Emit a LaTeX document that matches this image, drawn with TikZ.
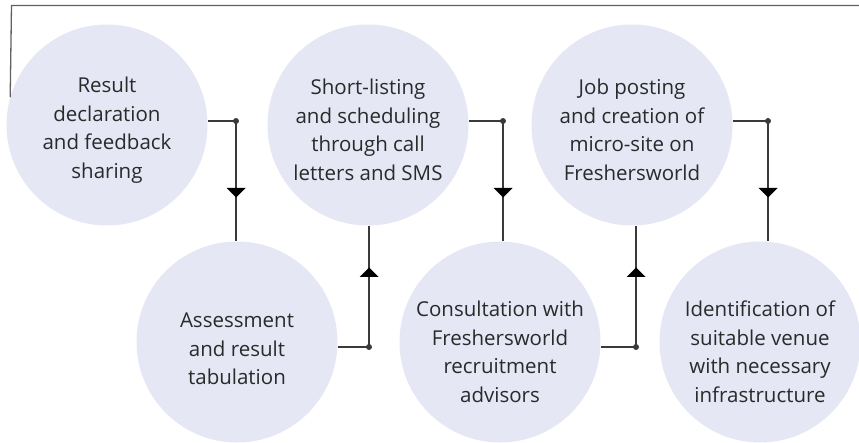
\documentclass[tikz,border=0pt]{standalone}
\usepackage{fontspec}
\setmainfont{Open Sans}
\usetikzlibrary{calc}
\definecolor{circfill}{HTML}{E5E7F5}
\definecolor{linec}{HTML}{3A3A3A}
\definecolor{textc}{HTML}{2A2A2A}
\tikzset{
  stepcircle/.style={circle, fill=circfill, draw=none, minimum size=201pt, inner sep=0pt},
  steptext/.style={align=center, text=textc, inner sep=0pt, font=\fontsize{20.5}{28.5}\selectfont},
  conn/.style={draw=linec, line width=1.1pt},
  topconn/.style={draw=linec!80, line width=1.3pt},
  dotc/.style={fill=linec},
  tric/.style={fill=black}
}
\newcommand\downtri[1]{\fill[tric] ($(#1)+(-9.5,67)$) -- ++(19,0) -- ++(-9.5,9.5) -- cycle;}
\newcommand\uptri[1]{\fill[tric] ($(#1)+(-9.5,-70)$) -- ++(19,0) -- ++(-9.5,-9.5) -- cycle;}
\begin{document}
\begin{tikzpicture}[x=1pt,y=-1pt]
\useasboundingbox (0,0) rectangle (859,443);
\node[stepcircle] (c1) at (107,125) {};
\node[stepcircle] (c2) at (237,342) {};
\node[stepcircle] (c3) at (368,125) {};
\node[stepcircle] (c4) at (500,342) {};
\node[stepcircle] (c5) at (632,125) {};
\node[stepcircle] (c6) at (760,342) {};
\node[steptext] (c1t) at ($(c1)+(0,5)$) {Result\\declaration\\and feedback\\sharing};
\node[steptext] (c2t) at ($(c2)+(0,7)$) {Assessment\\and result\\tabulation};
\node[steptext] (c3t) at ($(c3)+(0,5)$) {Short-listing\\and scheduling\\through call\\letters and SMS};
\node[steptext] (c4t) at ($(c4)+(0,10)$) {Consultation with\\Freshersworld\\recruitment\\advisors};
\node[steptext] (c5t) at ($(c5)+(0,5)$) {Job posting\\and creation of\\micro-site on\\Freshersworld};
\node[steptext] (c6t) at ($(c6)+(0,10)$) {Identification of\\suitable venue\\with necessary\\infrastructure};
% corner points
\coordinate (d1) at (236,121);
\coordinate (d2) at (369,347);
\coordinate (d3) at (503,121);
\coordinate (d4) at (636,347);
\coordinate (d5) at (768,121);
\coordinate (t1) at (11.5,5.5);
\coordinate (t2) at (859,5.5);
% top line
\draw[topconn] (c1.164) -- (t1) -- (t2);
% connectors
\draw[conn] (c1.east |- d1) -- (d1) -- (d1 |- c2.north);
\draw[conn] (c2.east |- d2) -- (d2) -- (d2 |- c3.south);
\draw[conn] (c3.east |- d3) -- (d3) -- (d3 |- c4.north);
\draw[conn] (c4.east |- d4) -- (d4) -- (d4 |- c5.south);
\draw[conn] (c5.east |- d5) -- (d5) -- (d5 |- c6.north);
\foreach \d in {d1,d2,d3,d4,d5} {\fill[dotc] (\d) circle (3pt);}
\downtri{d1}
\uptri{d2}
\downtri{d3}
\uptri{d4}
\downtri{d5}
\end{tikzpicture}
\end{document}
